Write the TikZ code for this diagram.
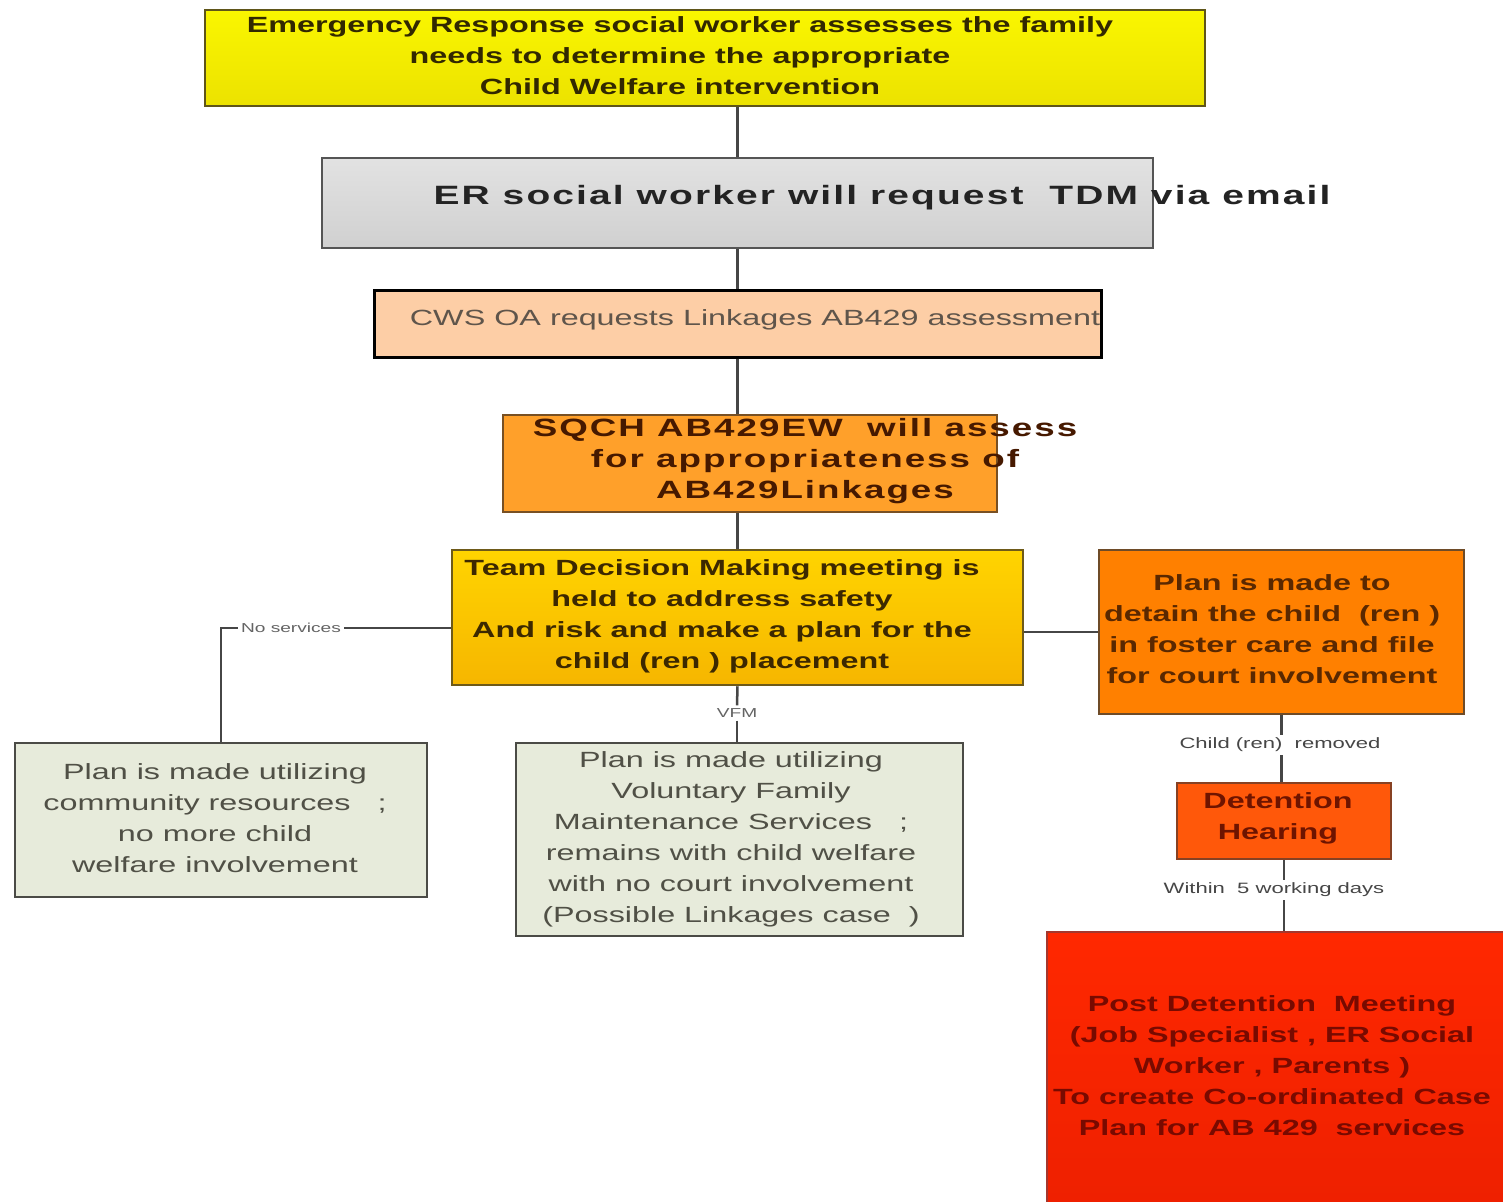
\documentclass[tikz,border=0pt]{standalone}
\usepackage{fontspec}
\setmainfont{Liberation Sans}
\newfontfamily\widefont[FakeStretch=1.47]{Liberation Sans}
\newfontfamily\spacedfont[FakeStretch=1.47,LetterSpace=8]{Liberation Sans}

\definecolor{wiregrey}{RGB}{70,70,70}
\definecolor{labgrey}{RGB}{100,100,100}
\definecolor{erfill}{RGB}{250,246,0}
\definecolor{erfoot}{RGB}{236,226,0}
\definecolor{tdmfill}{RGB}{226,226,226}
\definecolor{tdmfoot}{RGB}{208,208,208}
\definecolor{oafill}{RGB}{253,206,166}
\definecolor{sqchfill}{RGB}{255,160,42}
\definecolor{meetfill}{RGB}{255,212,0}
\definecolor{meetfoot}{RGB}{246,182,0}
\definecolor{planfill}{RGB}{255,128,0}
\definecolor{sagefill}{RGB}{231,235,219}
\definecolor{hearfill}{RGB}{255,88,10}
\definecolor{postfill}{RGB}{255,40,0}
\definecolor{postfoot}{RGB}{238,32,0}

\begin{document}
\begin{tikzpicture}[
      x=1pt, y=-1pt,
      box/.style={draw, line width=2.5pt, inner sep=0pt},
      txt/.style={align=center, inner sep=0pt,
                  font=\widefont\fontsize{22}{31}\selectfont},
      boldtxt/.style={txt, font=\widefont\bfseries\fontsize{22}{31}\selectfont},
      lab/.style={inner sep=3pt, text=labgrey,
                  font=\widefont\fontsize{13}{15}\selectfont},
      wire/.style={line width=2.5pt, draw=wiregrey}]

    \useasboundingbox [fill=white] (0,0) rectangle (1503,1201);

    % boxes
    \node [box, draw={rgb,255:red,95;green,85;blue,25}, top color=erfill, bottom color=erfoot,
           minimum width=1000pt, minimum height=96pt] (er) at (705,58) {};
    \node [box, draw={rgb,255:red,85;green,85;blue,85}, top color=tdmfill, bottom color=tdmfoot,
           minimum width=831pt, minimum height=90pt] (tdm) at (737.5,203) {};
    \node [box, draw=black, line width=3pt, fill=oafill,
           minimum width=727pt, minimum height=67pt] (oa) at (737.5,323.5) {};
    \node [box, draw={rgb,255:red,120;green,80;blue,35}, fill=sqchfill,
           minimum width=494pt, minimum height=97pt] (sqch) at (750,463.5) {};
    \node [box, draw={rgb,255:red,110;green,90;blue,25}, top color=meetfill, bottom color=meetfoot,
           minimum width=571pt, minimum height=135pt] (meet) at (737.5,617.5) {};
    \node [box, draw={rgb,255:red,110;green,75;blue,40}, fill=planfill,
           minimum width=365pt, minimum height=164pt] (plan) at (1281.5,632) {};
    \node [box, draw={rgb,255:red,75;green,75;blue,70}, fill=sagefill,
           minimum width=412pt, minimum height=154pt] (comm) at (221,820) {};
    \node [box, draw={rgb,255:red,75;green,75;blue,70}, fill=sagefill,
           minimum width=447pt, minimum height=193pt] (vfm) at (739.5,839.5) {};
    \node [box, draw={rgb,255:red,135;green,65;blue,35}, fill=hearfill,
           minimum width=214pt, minimum height=76pt] (hear) at (1284,821) {};
    \node [box, draw={rgb,255:red,165;green,55;blue,45}, top color=postfill, bottom color=postfoot,
           minimum width=463pt, minimum height=278pt] (post) at (1278.5,1071) {};

    % texts
    \node [boldtxt, text={rgb,255:red,50;green,40;blue,0}] (er-t) at (680,56)
      {Emergency Response social worker assesses the family\\
       needs to determine the appropriate\\ Child Welfare intervention};
    \node [boldtxt, text={rgb,255:red,35;green,35;blue,35},
           font=\spacedfont\bfseries\fontsize{26.5}{31}\selectfont] (tdm-t) at (882,198)
      {ER social worker will request\ \ TDM via email};
    \node [txt, text={rgb,255:red,95;green,85;blue,75}] (oa-t) at (755,320)
      {CWS OA requests Linkages AB429 assessment};
    \node [boldtxt, text={rgb,255:red,70;green,25;blue,0},
           font=\spacedfont\bfseries\fontsize{25}{31}\selectfont] (sqch-t) at (805,461)
      {SQCH AB429EW\ \ will assess\\ for appropriateness of\\ AB429Linkages};
    \node [boldtxt, text={rgb,255:red,60;green,40;blue,0}] (meet-t) at (722,616)
      {Team Decision Making meeting is\\ held to address safety\\
       And risk and make a plan for the\\ child (ren ) placement};
    \node [boldtxt, text={rgb,255:red,90;green,40;blue,0}] (plan-t) at (1272,629)
      {Plan is made to\\ detain the child\ \ (ren )\\ in foster care and file\\
       for court involvement};
    \node [txt, text={rgb,255:red,80;green,80;blue,70}] (comm-t) at (215,818)
      {Plan is made utilizing\\ community resources\ \ \ ;\\ no more child\\
       welfare involvement};
    \node [txt, text={rgb,255:red,80;green,80;blue,70}] (vfm-t) at (731,839)
      {Plan is made utilizing\\ Voluntary Family\\ Maintenance Services\ \ \ ;\\
       remains with child welfare\\ with no court involvement\\
       (Possible Linkages case\ \ )};
    \node [boldtxt, text={rgb,255:red,110;green,20;blue,0}] (hear-t) at (1278,818)
      {Detention\\ Hearing};
    \node [boldtxt, text={rgb,255:red,120;green,10;blue,0}] (post-t) at (1272,1066)
      {Post Detention\ \ Meeting\\ (Job Specialist\ , ER Social\\ Worker , Parents )\\
       To create Co-ordinated Case\\ Plan for AB\ 429\ \ services};

    % connector labels
    \node [lab] (nosv) at (291,628) {No services};
    \node [lab] (vfml) at (737,713) {VFM};
    \node [lab, text={rgb,255:red,70;green,70;blue,70}, font=\widefont\fontsize{15}{17}\selectfont]
      (rem) at (1280,745) {Child (ren)\ \ removed};
    \node [lab, text={rgb,255:red,70;green,70;blue,70}, font=\widefont\fontsize{15}{17}\selectfont]
      (days) at (1274,890) {Within\ \ 5 working days};

    % connectors
    \draw [wire] (er.south -| tdm.north) -- (tdm.north);
    \draw [wire] (tdm.south) -- (oa.north);
    \draw [wire] (oa.south) -- (oa.south |- sqch.north);
    \draw [wire] (meet.north |- sqch.south) -- (meet.north);
    \draw [wire] (meet.east |- plan.west) -- (plan.west);
    \draw [wire] (meet.west |- nosv.east) -- (nosv.east);
    \draw [wire] (nosv.west) -| (comm.north);
    \draw [wire] (meet.south) -- (vfml.north);
    \draw [wire] (vfml.south) -- (vfml.south |- vfm.north);
    \draw [wire] (plan.south) -- (plan.south |- rem.north);
    \draw [wire] (plan.south |- rem.south) -- (plan.south |- hear.north);
    \draw [wire] (hear.south) -- (hear.south |- days.north);
    \draw [wire] (hear.south |- days.south) -- (hear.south |- post.north);

  \end{tikzpicture}
\end{document}
